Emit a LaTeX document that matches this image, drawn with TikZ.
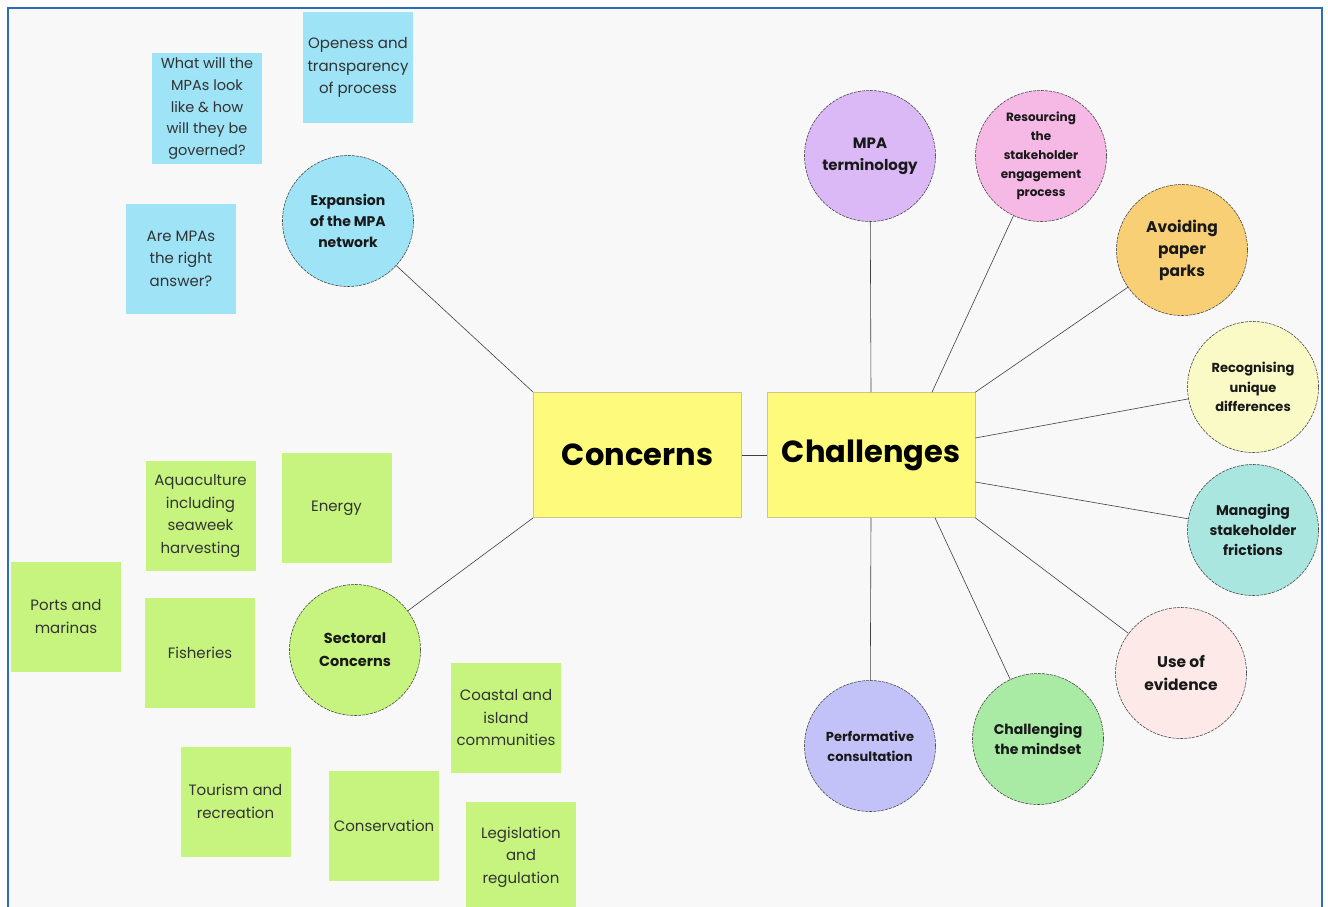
\documentclass[tikz,border=0pt]{standalone}
\usepackage{fontspec}
\setmainfont{Poppins}
\usepackage{xcolor}
\usetikzlibrary{positioning}
\definecolor{frameblue}{HTML}{2D6DB5}
\definecolor{canvas}{HTML}{F8F8F8}
\definecolor{hubfill}{HTML}{FDFA7C}
\definecolor{hubedge}{HTML}{C9C78A}
\definecolor{skyfill}{HTML}{9EE3F6}
\definecolor{limefill}{HTML}{C6F47F}
\definecolor{lilac}{HTML}{DBB9F7}
\definecolor{rosy}{HTML}{F6B9E6}
\definecolor{amber}{HTML}{F8CF74}
\definecolor{cream}{HTML}{FAFAC6}
\definecolor{aqua}{HTML}{A9E6E0}
\definecolor{blush}{HTML}{FCE9E8}
\definecolor{mint}{HTML}{A9EBA5}
\definecolor{periwinkle}{HTML}{C2C2F8}
\definecolor{notetext}{HTML}{333333}

\begin{document}
\begin{tikzpicture}[x=1pt, y=-1pt,
    hub/.style={draw=hubedge, fill=hubfill, line width=0.6pt, minimum width=208pt,
                minimum height=125pt, inner sep=0pt, font=\fontsize{30.5}{34}\selectfont\bfseries},
    topic/.style={circle, draw=black!75, dash pattern=on 3pt off 1pt, line width=0.55pt,
                  minimum size=131pt, inner sep=0pt, align=center, text=black!90},
    note/.style={minimum width=110pt, minimum height=110pt, inner sep=2pt, align=center,
                 text=notetext, font=\fontsize{15}{22.5}\selectfont},
    link/.style={draw=black!75, line width=0.6pt}
  ]
    \useasboundingbox (0,0) rectangle (1328,907);
    \clip (0,0) rectangle (1328,907);
    \fill[white] (0,0) rectangle (1328,907);
    \draw[frameblue, line width=2.4pt, fill=canvas] (8,8) rectangle (1322,940);

    % central boxes
    \node[hub] (conc) at (637.5,455) {Concerns};
    \node[hub] (chal) at (871,455) {Challenges};

    % concern themes and their notes
    \node[topic, fill=skyfill, font=\fontsize{14}{21}\selectfont\bfseries] (expansion) at (348,221) {Expansion\\of the MPA\\network};
    \node[topic, fill=limefill, font=\fontsize{14.5}{23}\selectfont\bfseries] (sectoral) at (355,650) {Sectoral\\Concerns};

    \node[note, fill=skyfill, font=\fontsize{14.5}{21.7}\selectfont] (lookgov) at (207,108.5) {What will the\\MPAs look\\like \& how\\will they be\\governed?};
    \node[note, fill=skyfill] (openness) at (358,67.5) {Openess and\\transparency\\of process};
    \node[note, fill=skyfill] (rightans) at (181,258.5) {Are MPAs\\the right\\answer?};

    \node[note, fill=limefill] (aqua) at (200.5,516) {Aquaculture\\including\\seaweek\\harvesting};
    \node[note, fill=limefill] (energy) at (336.5,508) {Energy};
    \node[note, fill=limefill] (ports) at (66,616.5) {Ports and\\marinas};
    \node[note, fill=limefill] (fish) at (200,653) {Fisheries};
    \node[note, fill=limefill] (coastal) at (506,718) {Coastal and\\island\\communities};
    \node[note, fill=limefill] (tourism) at (235.5,801.5) {Tourism and\\recreation};
    \node[note, fill=limefill] (conserv) at (384,826) {Conservation};
    \node[note, fill=limefill] (legis) at (521,857) {Legislation\\and\\regulation};

    % challenge circles
    \node[topic, fill=lilac, font=\fontsize{15}{22}\selectfont\bfseries] (term) at (870,156) {MPA\\terminology};
    \node[topic, fill=rosy, font=\fontsize{12}{18.8}\selectfont\bfseries] (resourcing) at (1041,156) {Resourcing\\the\\stakeholder\\engagement\\process};
    \node[topic, fill=amber, font=\fontsize{15.5}{22}\selectfont\bfseries] (avoiding) at (1182,250) {Avoiding\\paper\\parks};
    \node[topic, fill=cream, font=\fontsize{13}{19.5}\selectfont\bfseries] (recog) at (1253,387) {Recognising\\unique\\differences};
    \node[topic, fill=aqua, font=\fontsize{14}{20}\selectfont\bfseries] (frictions) at (1253,530) {Managing\\stakeholder\\frictions};
    \node[topic, fill=blush, font=\fontsize{15.5}{23}\selectfont\bfseries] (evidence) at (1181,673) {Use of\\evidence};
    \node[topic, fill=mint, font=\fontsize{14}{20}\selectfont\bfseries] (mindset) at (1038,739) {Challenging\\the mindset};
    \node[topic, fill=periwinkle, font=\fontsize{13}{20}\selectfont\bfseries] (perform) at (870,746) {Performative\\consultation};

    % connectors
    \draw[link] (conc) -- (chal);
    \draw[link] (conc.north west) -- (expansion);
    \draw[link] (conc.south west) -- (sectoral);
    \draw[link] (chal.north) -- (term);
    \draw[link] ([xshift=61pt]chal.north) -- (resourcing);
    \draw[link] (chal.north east) -- (avoiding);
    \draw[link] ([yshift=17pt]chal.east) -- (recog);
    \draw[link] ([yshift=-27pt]chal.east) -- (frictions);
    \draw[link] (chal.south east) -- (evidence);
    \draw[link] ([xshift=64pt]chal.south) -- (mindset);
    \draw[link] (chal.south) -- (perform);
  \end{tikzpicture}
\end{document}
